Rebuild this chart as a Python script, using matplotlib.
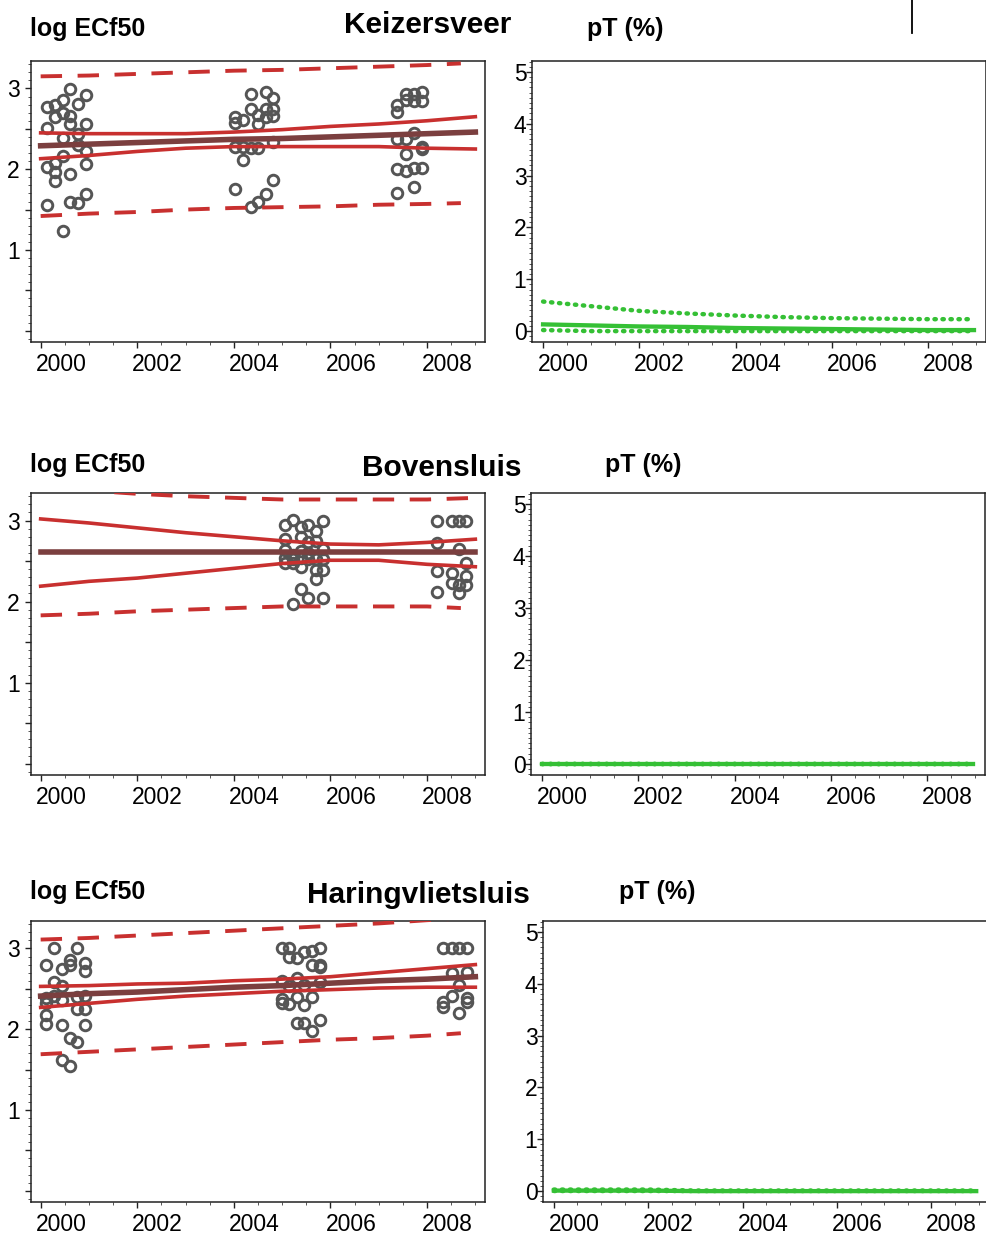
"""Trend of log ECf50 and pT per station, 2000-2009."""
import matplotlib
matplotlib.use("Agg")
import matplotlib.pyplot as plt
import matplotlib.transforms as mtransforms
from matplotlib.ticker import MultipleLocator, FixedLocator, FuncFormatter

plt.rcParams['font.family'] = ['Liberation Sans', 'DejaVu Sans']

# --- data -------------------------------------------------------------
stations = ['Keizersveer', 'Bovensluis', 'Haringvlietsluis']
fit_years = [2000, 2001, 2002, 2003, 2004, 2005, 2006, 2007, 2008, 2009]
pi_years = [2000, 2001, 2002, 2003, 2004, 2005, 2006, 2007, 2008, 2008.7]
pt_years = [2000, 2001, 2002, 2003, 2004, 2005, 2006, 2007, 2008, 2008.95]

# Keizersveer: sampling dates and log ECf50 per date
kz_dates = [2000.14, 2000.30, 2000.46, 2000.61, 2000.77, 2000.93,
            2004.03, 2004.19, 2004.35, 2004.51, 2004.66, 2004.82,
            2007.37, 2007.56, 2007.72, 2007.89]
kz_vals = [[2.77, 2.51, 2.03, 1.56], [2.79, 2.65, 2.08, 1.96, 1.85],
           [2.86, 2.70, 2.39, 2.16, 1.23], [2.99, 2.66, 2.56, 1.94, 1.60],
           [2.81, 2.44, 2.30, 1.58], [2.92, 2.56, 2.22, 2.07, 1.69],
           [2.65, 2.57, 2.28, 1.76], [2.61, 2.28, 2.11],
           [2.93, 2.74, 2.26, 1.53], [2.67, 2.56, 2.26, 1.60],
           [2.96, 2.75, 2.65, 1.69], [2.88, 2.75, 2.66, 2.34, 1.87],
           [2.79, 2.71, 2.37, 2.00, 1.71], [2.93, 2.86, 2.37, 2.19, 1.98],
           [2.93, 2.85, 2.45, 2.01, 1.78], [2.96, 2.85, 2.28, 2.25, 2.01]]
kz_fit = [2.29, 2.31, 2.33, 2.35, 2.37, 2.38, 2.40, 2.42, 2.44, 2.46]
kz_ci_hi = [2.45, 2.44, 2.44, 2.44, 2.46, 2.49, 2.53, 2.56, 2.60, 2.65]
kz_ci_lo = [2.13, 2.17, 2.22, 2.26, 2.28, 2.28, 2.28, 2.28, 2.26, 2.25]
kz_pi_hi = [3.15, 3.16, 3.18, 3.20, 3.22, 3.23, 3.25, 3.27, 3.29, 3.31]
kz_pi_lo = [1.42, 1.45, 1.47, 1.50, 1.52, 1.53, 1.54, 1.56, 1.57, 1.58]
kz_pt_hi = [0.57, 0.48, 0.39, 0.34, 0.30, 0.27, 0.25, 0.24, 0.23, 0.23]
kz_pt_mid = [0.13, 0.11, 0.09, 0.08, 0.06, 0.05, 0.04, 0.03, 0.02, 0.02]
kz_pt_lo = [0.02, 0.00, 0.00, 0.00, 0.00, 0.00, 0.00, 0.00, 0.00, 0.00]

# Bovensluis
bv_dates = [2005.06, 2005.22, 2005.38, 2005.54, 2005.70, 2005.84,
            2008.20, 2008.51, 2008.66, 2008.81]
bv_vals = [[2.94, 2.77, 2.64, 2.54, 2.47], [3.01, 2.58, 2.52, 2.47, 1.97],
           [2.92, 2.80, 2.62, 2.54, 2.43, 2.16], [2.94, 2.74, 2.60, 2.52, 2.04],
           [2.87, 2.75, 2.52, 2.39, 2.28], [3.00, 2.65, 2.52, 2.39, 2.04],
           [3.00, 2.72, 2.38, 2.12], [3.00, 2.35, 2.23],
           [3.00, 2.65, 2.21, 2.10], [3.00, 2.47, 2.31, 2.20]]
bv_fit = [2.61, 2.61, 2.61, 2.61, 2.61, 2.61, 2.61, 2.61, 2.61, 2.61]
bv_ci_hi = [3.02, 2.97, 2.91, 2.85, 2.80, 2.75, 2.71, 2.70, 2.73, 2.77]
bv_ci_lo = [2.19, 2.25, 2.29, 2.35, 2.41, 2.47, 2.51, 2.51, 2.46, 2.43]
bv_pi_hi = [3.42, 3.37, 3.33, 3.30, 3.28, 3.26, 3.26, 3.26, 3.26, 3.28]
bv_pi_lo = [1.83, 1.85, 1.88, 1.90, 1.92, 1.94, 1.94, 1.94, 1.94, 1.92]
bv_pt_hi = [0.01, 0.01, 0.01, 0.01, 0.01, 0.01, 0.01, 0.01, 0.01, 0.01]
bv_pt_mid = [0.00, 0.00, 0.00, 0.00, 0.00, 0.00, 0.00, 0.00, 0.00, 0.00]
bv_pt_lo = [0.00, 0.00, 0.00, 0.00, 0.00, 0.00, 0.00, 0.00, 0.00, 0.00]

# Haringvlietsluis
hv_dates = [2000.12, 2000.28, 2000.44, 2000.60, 2000.75, 2000.91,
            2004.99, 2005.15, 2005.30, 2005.46, 2005.61, 2005.79,
            2008.34, 2008.51, 2008.67, 2008.82]
hv_vals = [[2.80, 2.39, 2.32, 2.18, 2.06], [3.00, 2.59, 2.41],
           [2.75, 2.53, 2.36, 2.05, 1.62], [2.86, 2.80, 1.89, 1.55],
           [3.00, 2.40, 2.25, 1.84], [2.82, 2.72, 2.41, 2.25, 2.05],
           [3.00, 2.60, 2.38, 2.32], [3.00, 2.90, 2.54, 2.31],
           [2.88, 2.64, 2.40, 2.08], [2.96, 2.55, 2.30, 2.08],
           [2.97, 2.80, 2.40, 1.98], [3.00, 2.79, 2.77, 2.58, 2.12],
           [3.00, 2.34, 2.27], [3.00, 2.69, 2.41],
           [3.00, 2.55, 2.20], [3.00, 2.71, 2.39, 2.34]]
hv_fit = [2.41, 2.44, 2.46, 2.49, 2.52, 2.54, 2.57, 2.60, 2.62, 2.65]
hv_ci_hi = [2.53, 2.54, 2.56, 2.57, 2.60, 2.62, 2.65, 2.70, 2.75, 2.80]
hv_ci_lo = [2.27, 2.32, 2.37, 2.41, 2.44, 2.47, 2.49, 2.51, 2.52, 2.52]
hv_pi_hi = [3.11, 3.13, 3.16, 3.19, 3.22, 3.25, 3.28, 3.31, 3.35, 3.38]
hv_pi_lo = [1.69, 1.72, 1.75, 1.78, 1.81, 1.84, 1.87, 1.89, 1.92, 1.95]
hv_pt_hi = [0.03, 0.03, 0.03, 0.01, 0.01, 0.01, 0.01, 0.01, 0.01, 0.01]
hv_pt_mid = [0.01, 0.01, 0.01, 0.00, 0.00, 0.00, 0.00, 0.00, 0.00, 0.00]
hv_pt_lo = [0.00, 0.00, 0.00, 0.00, 0.00, 0.00, 0.00, 0.00, 0.00, 0.00]

# --- layout (pixels) --------------------------------------------------
W, H = 987, 1236
RED = '#c8302f'
BROWN = '#7b3f3f'
GREEN = '#35c035'
GREY = '#555555'

fig = plt.figure(figsize=(W / 100, H / 100), dpi=100)


def box(x0, y0, x1, y1):
    return [x0 / W, 1 - y1 / H, (x1 - x0) / W, (y1 - y0) / H]


def shift_xlabels(ax, dx):
    off = mtransforms.ScaledTranslation(dx / 100, 0, fig.dpi_scale_trans)
    for lab in ax.get_xticklabels():
        lab.set_horizontalalignment('left')
        lab.set_transform(lab.get_transform() + off)


def style(ax, ypad):
    for s in ax.spines.values():
        s.set_linewidth(1.1)
        s.set_color('#222222')
    ax.set_xticks([2000, 2002, 2004, 2006, 2008])
    ax.xaxis.set_minor_locator(MultipleLocator(0.5))
    ax.tick_params(axis='both', which='major', labelsize=16.5, length=4,
                   width=1, color='#222222')
    ax.tick_params(axis='y', pad=ypad)
    ax.tick_params(axis='x', pad=4)
    ax.tick_params(axis='both', which='minor', length=2, width=0.7,
                   color='#555555')
    shift_xlabels(ax, -5)


left_boxes = [(31, 61, 485, 342), (31, 493, 485, 775), (31, 921, 485, 1202)]
right_boxes = [(532, 61, 986, 342), (531, 493, 985, 775), (543, 921, 988, 1202)]

dates = [kz_dates, bv_dates, hv_dates]
vals = [kz_vals, bv_vals, hv_vals]
fits = [kz_fit, bv_fit, hv_fit]
ci_hi = [kz_ci_hi, bv_ci_hi, hv_ci_hi]
ci_lo = [kz_ci_lo, bv_ci_lo, hv_ci_lo]
pi_hi = [kz_pi_hi, bv_pi_hi, hv_pi_hi]
pi_lo = [kz_pi_lo, bv_pi_lo, hv_pi_lo]
pi_hi_years = [pi_years, fit_years, fit_years]
pt_hi = [kz_pt_hi, bv_pt_hi, hv_pt_hi]
pt_mid = [kz_pt_mid, bv_pt_mid, hv_pt_mid]
pt_lo = [kz_pt_lo, bv_pt_lo, hv_pt_lo]

for i in range(3):
    # left panel: log ECf50
    ax = fig.add_axes(box(*left_boxes[i]))
    xs = [d for d, v in zip(dates[i], vals[i]) for _ in v]
    ys = [y for v in vals[i] for y in v]
    ax.plot(xs, ys, 'o', mfc='none', mec=GREY, ms=7.6, mew=2.1, zorder=2)
    ax.plot(pi_hi_years[i], pi_hi[i], color=RED, lw=2.8, dashes=(5.5, 4),
            zorder=3)
    ax.plot(pi_years, pi_lo[i], color=RED, lw=2.8, dashes=(5.5, 4), zorder=3)
    ax.plot(fit_years, ci_hi[i], color=RED, lw=2.6, zorder=3)
    ax.plot(fit_years, ci_lo[i], color=RED, lw=2.6, zorder=3)
    ax.plot(fit_years, fits[i], color=BROWN, lw=4, zorder=4)
    ax.set_xlim(1999.8, 2009.2)
    ax.set_ylim(-0.14, 3.34)
    ax.yaxis.set_major_locator(FixedLocator([0, 0.5, 1, 1.5, 2, 2.5, 3]))
    ax.yaxis.set_major_formatter(
        FuncFormatter(lambda v, p: '%d' % v if v >= 1 and v == int(v) else ''))
    ax.yaxis.set_minor_locator(MultipleLocator(0.1))
    style(ax, 4)

    # right panel: pT
    ax = fig.add_axes(box(*right_boxes[i]))
    ax.plot(pt_years, pt_hi[i], color=GREEN, lw=3.2, dashes=(0.3, 1.5),
            dash_capstyle='round', zorder=3)
    ax.plot(pt_years, pt_lo[i], color=GREEN, lw=3.2, dashes=(0.3, 1.5),
            dash_capstyle='round', zorder=3)
    ax.plot(pt_years, pt_mid[i], color=GREEN, lw=3.1, zorder=3)
    ax.set_xlim(1999.77, 2009.2)
    ax.set_ylim(-0.21, 5.21)
    ax.set_yticks([0, 1, 2, 3, 4, 5])
    ax.yaxis.set_minor_locator(MultipleLocator(0.1))
    style(ax, 0)

# --- texts ------------------------------------------------------------
lab_y = [36, 472, 899]
title_y = [33, 476, 903]
title_x = [428, 442, 418]
pt_x = [625, 643, 657]
for i in range(3):
    fig.text(30 / W, 1 - lab_y[i] / H, 'log ECf50', fontsize=18,
             fontweight='bold', ha='left', va='baseline')
    fig.text(title_x[i] / W, 1 - title_y[i] / H, stations[i], fontsize=21.5,
             fontweight='bold', ha='center', va='baseline')
    fig.text(pt_x[i] / W, 1 - lab_y[i] / H, 'pT (%)', fontsize=18,
             fontweight='bold', ha='center', va='baseline')

fig.add_artist(plt.Line2D([912 / W, 912 / W], [1, 1 - 33 / H],
                          color='black', lw=1.3))

fig.savefig('out.png', dpi=100)
